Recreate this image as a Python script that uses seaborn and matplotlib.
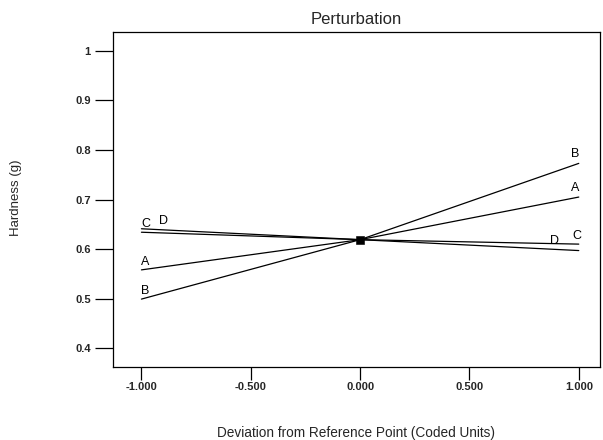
import matplotlib
matplotlib.use("Agg")
import matplotlib.pyplot as plt
import seaborn as sns
import pandas as pd

sns.set_theme(style="white")
plt.rcParams['font.family'] = ['Liberation Sans', 'DejaVu Sans']

factors = ["A", "B", "C", "D"]
deviation = [-1.0, 0.0, 1.0]
hardness_A = [0.558, 0.619, 0.705]
hardness_B = [0.499, 0.619, 0.773]
hardness_C = [0.634, 0.619, 0.610]
hardness_D = [0.641, 0.619, 0.597]
x_ticks = [-1.0, -0.5, 0.0, 0.5, 1.0]
x_tick_labels = ["-1.000", "-0.500", "0.000", "0.500", "1.000"]
y_ticks = [0.4, 0.5, 0.6, 0.7, 0.8, 0.9, 1.0]
y_tick_labels = ["0.4", "0.5", "0.6", "0.7", "0.8", "0.9", "1"]
center_x = [0.0]
center_y = [0.619]

values = {"A": hardness_A, "B": hardness_B, "C": hardness_C, "D": hardness_D}
df = pd.DataFrame([(f, x, y) for f in factors for x, y in zip(deviation, values[f])],
                  columns=["factor", "dev", "hardness"])

fig = plt.figure(figsize=(6.03, 4.40), dpi=100)
ax = fig.add_axes([0.1874, 0.166, 0.8076, 0.761])

sns.lineplot(data=df, x="dev", y="hardness", units="factor", estimator=None,
             color="black", linewidth=0.9, ax=ax, legend=False)
sns.scatterplot(x=center_x, y=center_y, color="black", marker="s", s=26,
                edgecolor="black", ax=ax, zorder=5)

ax.set_xlim(-1.13, 1.097)
ax.set_ylim(0.362, 1.038)
ax.set_xticks(x_ticks)
ax.set_xticklabels(x_tick_labels, fontsize=8, fontweight="bold")
ax.set_yticks(y_ticks)
ax.set_yticklabels(y_tick_labels, fontsize=8, fontweight="bold")
ax.tick_params(axis="y", direction="out", length=13, width=0.9, color="black", pad=3, left=True)
ax.tick_params(axis="x", direction="out", length=9, width=0.9, color="black", pad=2, bottom=True)
for s in ax.spines.values():
    s.set_color("black")
    s.set_linewidth(0.9)

ax.set_xlabel("Deviation from Reference Point (Coded Units)", fontsize=9.8, labelpad=24)
ax.set_ylabel("")
fig.text(0.026, 0.55, "Hardness (g)", rotation=90, fontsize=9.5, ha="center", va="center")
ax.set_title("Perturbation", fontsize=12, pad=6)

# factor labels
lab_kw = dict(fontsize=9, color="black", ha="center", va="bottom")
left_pos = {"A": (-0.985, 0.562), "B": (-0.985, 0.503), "C": (-0.98, 0.638), "D": (-0.9, 0.645)}
right_pos = {"A": (0.985, 0.712), "B": (0.985, 0.78), "C": (0.99, 0.615), "D": (0.89, 0.605)}
for f in factors:
    ax.text(*left_pos[f], f, **lab_kw)
    ax.text(*right_pos[f], f, **lab_kw)

fig.savefig("out.png", dpi=100)
